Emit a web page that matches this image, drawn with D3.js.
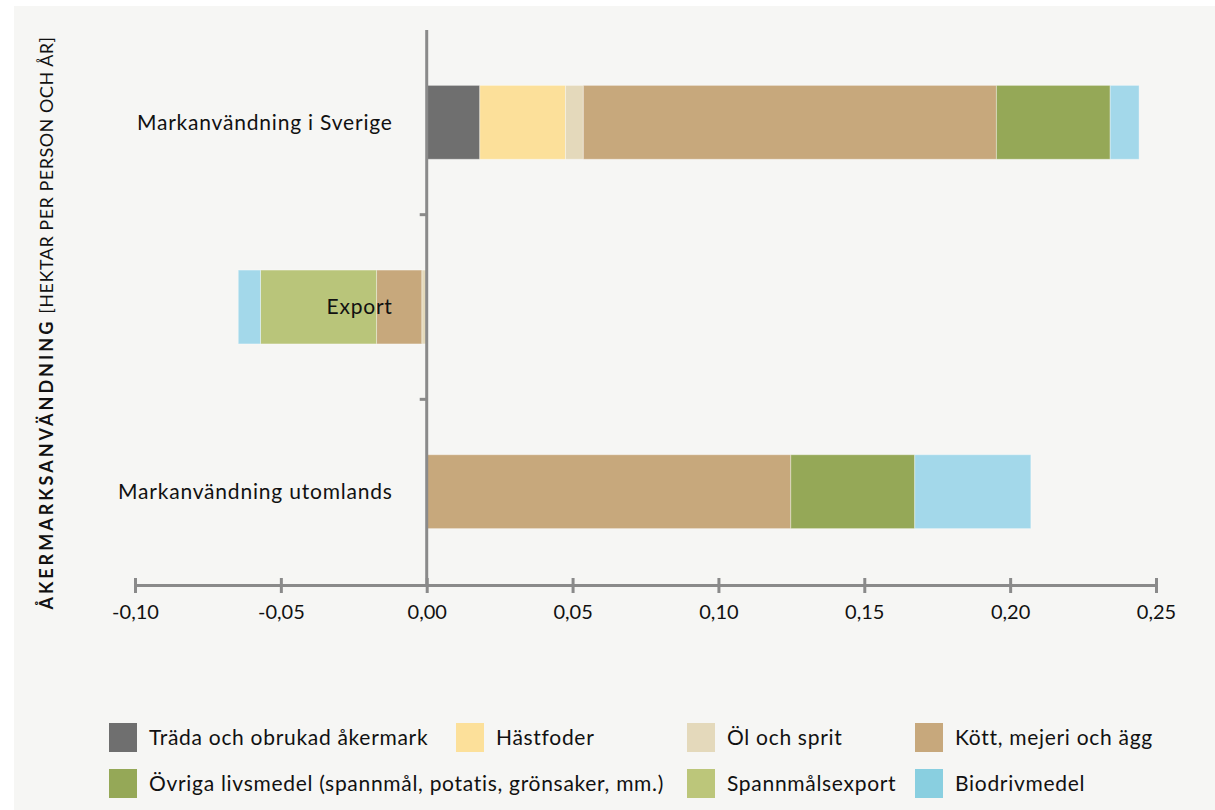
<!DOCTYPE html>
<html>
<head>
<meta charset="utf-8">
<script src="https://cdn.jsdelivr.net/npm/d3@7"></script>
<style>
  body { margin: 0; background: #fff; }
  svg { display: block; }
  text { font-family: Lato, "Open Sans", sans-serif; fill: #111; }
</style>
</head>
<body>
<svg id="chart"></svg>
<script>
// rows of the chart, top to bottom
var categories = ["Markanvändning i Sverige", "Export", "Markanvändning utomlands"];
var seriesNames = ["Träda och obrukad åkermark", "Hästfoder", "Öl och sprit", "Kött, mejeri och ägg",
  "Övriga livsmedel (spannmål, potatis, grönsaker, mm.)", "Spannmålsexport", "Biodrivmedel"];
// hektar per person och år, one value per category
var trada   = [0.0182, 0, 0];
var hastfoder = [0.0294, 0, 0];
var olSprit = [0.0061, -0.0017, 0];
var kott    = [0.1416, -0.0155, 0.1248];
var ovriga  = [0.0390, 0, 0.0425];
var spannExport = [0, -0.0398, 0];
var biodriv = [0.0099, -0.0076, 0.0398];
var ticks = [-0.10, -0.05, 0.00, 0.05, 0.10, 0.15, 0.20, 0.25];

var barColors = ["#6f6f6f", "#fce09a", "#e4d9bb", "#c7a87c", "#95a857", "#b9c57a", "#a3d8ea"];
var legendColors = ["#6f6f6f", "#fce09a", "#e4d9bb", "#c7a87c", "#95a857", "#bcc67a", "#89cfe0"];

var allSeries = [trada, hastfoder, olSprit, kott, ovriga, spannExport, biodriv];

var W = 1215, H = 810;
var svg = d3.select("#chart").attr("width", W).attr("height", H);

// background
svg.append("rect").attr("x", 14).attr("y", 6).attr("width", W - 14).attr("height", H - 6)
  .attr("fill", "#f6f6f4");

var x = d3.scaleLinear().domain([-0.10, 0.25]).range([135, 1156]);
var y = d3.scaleBand().domain(categories).range([30, 584]).paddingInner(0.6).paddingOuter(0.3);

// stacking: positives from 0 rightwards, negatives leftwards
categories.forEach(function(cat, ci) {
  var pos = 0, neg = 0;
  var segs = [];
  allSeries.forEach(function(s, si) {
    var v = s[ci];
    if (v > 0) { segs.push({ x0: pos, x1: pos + v, c: barColors[si] }); pos += v; }
    else if (v < 0) { segs.push({ x0: neg + v, x1: neg, c: barColors[si] }); neg += v; }
  });
  svg.append("g").selectAll("rect")
    .data(segs)
    .enter()
    .append("rect")
    .attr("x", function(d) { return x(d.x0); })
    .attr("width", function(d) { return x(d.x1) - x(d.x0); })
    .attr("y", y(cat))
    .attr("height", y.bandwidth())
    .attr("fill", function(d) { return d.c; })
    .attr("stroke", "rgba(255,255,255,0.35)")
    .attr("stroke-width", 1);
});

var axisColor = "#8a8a8a";

// vertical axis
svg.append("line").attr("x1", x(0)).attr("x2", x(0)).attr("y1", 30).attr("y2", 585)
  .attr("stroke", axisColor).attr("stroke-width", 3);
var step = y.step();
[1, 2].forEach(function(i) {
  var yy = y(categories[i]) - (step - y.bandwidth()) / 2;
  svg.append("line").attr("x1", x(0) - 7).attr("x2", x(0)).attr("y1", yy).attr("y2", yy)
    .attr("stroke", axisColor).attr("stroke-width", 3);
});

// horizontal axis
var xAxis = d3.axisBottom(x).tickValues(ticks).tickSize(0)
  .tickFormat(function(d) { return d3.format(".2f")(d).replace(".", ",").replace("−", "-"); });
var gx = svg.append("g").attr("transform", "translate(0,585)").call(xAxis);
gx.select(".domain").attr("stroke", axisColor).attr("stroke-width", 3);
gx.selectAll(".tick line").attr("y1", -7).attr("y2", 8).attr("stroke", axisColor).attr("stroke-width", 3);
gx.selectAll(".tick text").attr("y", 20).attr("dy", "0.71em").style("font-size", "20px")
  .style("font-family", "Lato, sans-serif").attr("fill", "#111");

// category labels
svg.append("g").selectAll("text")
  .data(categories)
  .enter()
  .append("text")
  .attr("x", x(0) - 34)
  .attr("y", function(d) { return y(d) + y.bandwidth() / 2; })
  .attr("dy", "0.35em")
  .attr("text-anchor", "end")
  .style("font-size", "21px")
  .style("letter-spacing", "0.8px")
  .text(function(d) { return d; });

// y title
var yt = svg.append("text")
  .attr("transform", "translate(53,323) rotate(-90)")
  .attr("text-anchor", "middle")
  .style("font-size", "18px")
  .style("letter-spacing", "0.5px");
yt.append("tspan").style("font-weight", "bold").style("letter-spacing", "3px").text("ÅKERMARKSANVÄNDNING");
yt.append("tspan").text(" [HEKTAR PER PERSON OCH ÅR]");

// legend
var legendPos = [[109, 723], [456, 723], [687, 723], [915, 723], [109, 769], [687, 769], [915, 769]];
var lg = svg.append("g").selectAll("g")
  .data(seriesNames)
  .enter()
  .append("g")
  .attr("transform", function(d, i) { return "translate(" + legendPos[i][0] + "," + legendPos[i][1] + ")"; });
lg.append("rect").attr("width", 28).attr("height", 29)
  .attr("fill", function(d, i) { return legendColors[i]; });
lg.append("text").attr("x", 40).attr("y", 15).attr("dy", "0.35em")
  .style("font-size", "21px")
  .style("letter-spacing", "0.7px")
  .text(function(d) { return d; });
</script>
</body>
</html>
